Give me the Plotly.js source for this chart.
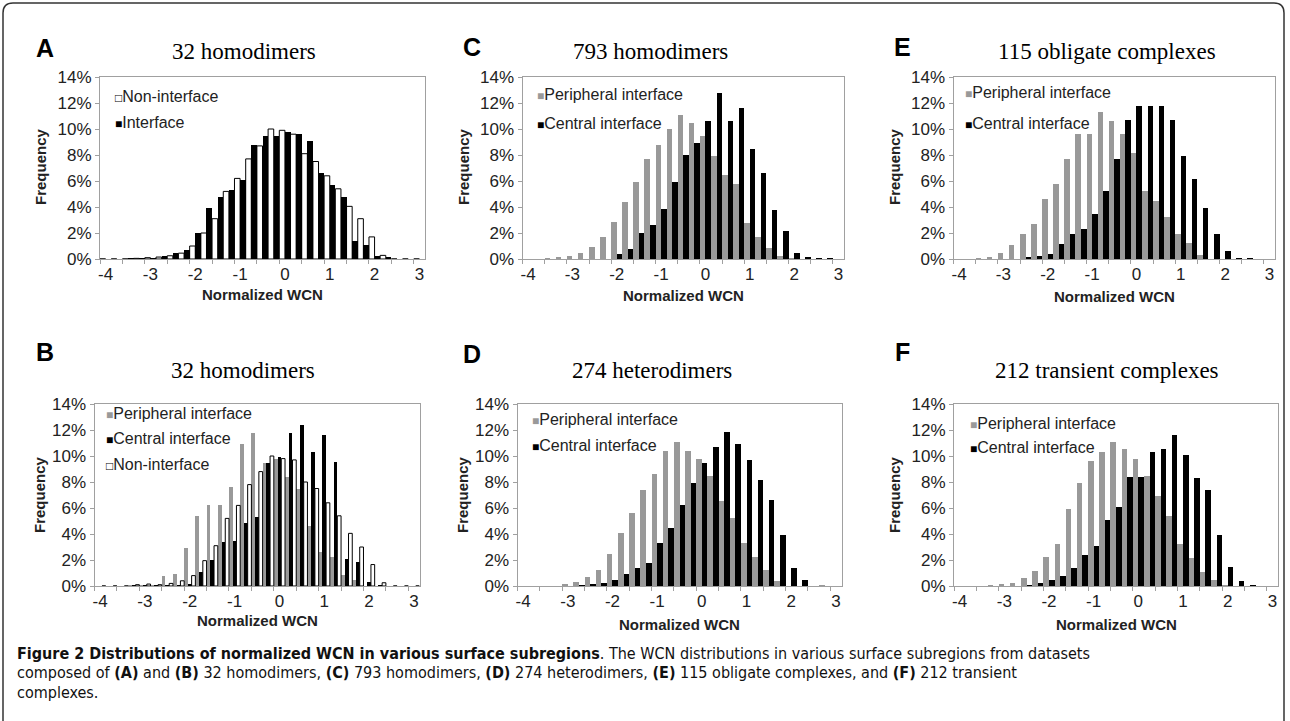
<!DOCTYPE html>
<html>
<head>
<meta charset="utf-8">
<script src="https://cdn.plot.ly/plotly-3.0.1.min.js"></script>
<style>
html,body{margin:0;padding:0;background:#fff;}
#chart{width:1290px;height:721px;}
</style>
</head>
<body>
<div id="chart"></div>
<script>
// ---------- categories (normalized WCN bins, Excel category axis) ----------
const bins = [-4,-3.75,-3.5,-3.25,-3,-2.75,-2.5,-2.25,-2,-1.75,-1.5,-1.25,-1,-0.75,-0.5,-0.25,0,0.25,0.5,0.75,1,1.25,1.5,1.75,2,2.25,2.5,2.75,3];
const xTickVals = [-4,-3,-2,-1,0,1,2,3];
const xTickText = ['-4','-3','-2','-1','0','1','2','3'];
const yTickVals = [0,2,4,6,8,10,12,14];
const yTickText = ['0%','2%','4%','6%','8%','10%','12%','14%'];

// ---------- series values (frequency, %) ----------
// (A) 32 homodimers
const A_nonInterface = [0,0,0,0.05,0.1,0.15,0.25,0.45,1.0,2.0,3.1,5.2,6.2,7.7,8.7,10.0,9.9,9.6,8.1,7.5,6.4,5.4,4.05,3.1,1.7,0.28,0,0,0];
const A_interface    = [0,0,0.05,0.1,0.1,0.2,0.5,0.7,2.0,3.9,4.8,5.3,6.1,8.8,9.5,9.5,9.8,9.6,9.1,6.6,5.7,4.75,1.4,1.05,0.23,0.15,0,0,0];
// (B) 32 homodimers
const B_peripheral   = [0,0,0,0.1,0.1,0.1,0.8,0.95,2.95,5.35,6.25,6.25,7.6,10.9,11.8,9.5,9.8,8.4,7.5,4.65,2.6,2.2,0.85,0.5,0,0,0,0,0];
const B_central      = [0,0,0,0.05,0.05,0.1,0.05,0.1,0.15,1.1,2.0,3.35,3.5,4.85,5.3,9.45,9.9,11.75,12.4,10.3,11.6,9.55,2.1,1.85,0.3,0.1,0,0,0];
const B_nonInterface = [0,0,0,0.1,0.15,0.1,0.2,0.4,0.8,1.95,3.1,5.2,6.2,7.8,8.8,10.0,9.8,9.7,8.0,7.5,6.4,5.4,4.05,3.0,1.65,0.25,0,0,0];
// (C) 793 homodimers
const C_peripheral   = [0.03,0.03,0.05,0.15,0.25,0.45,0.9,1.7,2.85,4.4,5.9,7.7,8.8,10.0,11.1,10.5,9.45,7.9,6.5,5.8,2.8,1.7,0.85,0.25,0.05,0,0,0,0];
const C_central      = [0,0,0,0,0,0,0,0.02,0.35,0.8,2.0,2.6,3.85,5.9,8.0,8.9,10.6,12.8,10.6,11.6,8.45,6.6,3.75,2.15,0.5,0.12,0.05,0.05,0.03];
// (D) 274 heterodimers
const D_peripheral   = [0,0,0.02,0.03,0.15,0.3,0.7,1.25,2.5,4.1,5.65,7.4,8.6,10.4,11.1,10.35,9.8,8.45,6.55,5.25,3.3,2.25,1.2,0.4,0,0,0,0.05,0];
const D_central      = [0,0,0,0,0,0.1,0.15,0.2,0.5,0.9,1.35,1.8,3.3,4.5,6.25,7.9,9.5,10.7,11.85,10.95,9.7,8.15,6.6,3.9,1.35,0.45,0.02,0,0];
// (E) 115 obligate complexes
const E_peripheral   = [0,0.02,0.05,0.15,0.5,1.05,1.9,2.7,4.65,5.8,7.7,9.6,9.6,11.3,10.6,9.6,8.15,5.25,4.45,3.2,1.95,1.2,0.3,0,0,0,0,0,0];
const E_central      = [0,0,0,0,0,0,0.15,0.25,0.35,1.15,1.95,2.3,3.5,5.25,7.7,10.7,11.75,11.75,11.75,10.7,7.9,6.15,3.9,1.9,0.6,0.05,0.05,0.03,0.03];
// (F) 212 transient complexes
const F_peripheral   = [0,0,0.02,0.05,0.15,0.25,0.6,1.15,2.2,3.2,5.95,7.9,9.6,10.3,11.05,10.55,9.8,8.45,6.9,5.35,3.2,2.15,1.1,0.45,0.05,0,0,0.02,0];
const F_central      = [0,0,0,0,0,0,0.1,0.25,0.5,0.8,1.4,2.35,3.05,5.1,6.1,8.35,8.35,10.3,10.55,11.6,10.1,8.3,7.4,3.9,1.45,0.35,0.05,0,0];

// ---------- texts ----------
const panelTitles = ['32 homodimers','793 homodimers','115 obligate complexes','32 homodimers','274 heterodimers','212 transient complexes'];
const panelLetters = ['A','C','E','B','D','F'];
const seriesNames = {per:'Peripheral interface', cen:'Central interface', non:'Non-interface', int:'Interface'};
const xTitle = 'Normalized WCN';
const yTitle = 'Frequency';
const captionLines = [
  '<b>Figure 2 Distributions of normalized WCN in various surface subregions</b>. The WCN distributions in various surface subregions from datasets',
  'composed of <b>(A)</b> and <b>(B)</b> 32 homodimers, <b>(C)</b> 793 homodimers, <b>(D)</b> 274 heterodimers, <b>(E)</b> 115 obligate complexes, and <b>(F)</b> 212 transient',
  'complexes.'
];

// ---------- styles / layout geometry (pixels) ----------
const W = 1290, H = 721;
const GRAY = '#999999', BLACK = '#000000', WHITE = '#ffffff';
const SANS = 'Liberation Sans, Arial, sans-serif';
const SERIF = 'Liberation Serif, Times New Roman, serif';
const CAPFONT = 'Liberation Sans Narrow, DejaVu Sans Condensed, Liberation Sans, sans-serif';
const TICKSIZE = 17;
const px = x => x / W;
const py = y => 1 - y / H;

const series = {
  non:{color:WHITE, line:BLACK, lw:1, legendGlyph:'□', glyphColor:BLACK},
  int:{color:BLACK, line:BLACK, lw:0, legendGlyph:'■', glyphColor:BLACK},
  per:{color:GRAY,  line:GRAY,  lw:0, legendGlyph:'■', glyphColor:GRAY},
  cen:{color:BLACK, line:BLACK, lw:0, legendGlyph:'■', glyphColor:BLACK}
};

const panels = [
  {box:[100,425,77,259],   title:[244,52],  letter:[45,48],  ytitle:[40,167],  xtitle:[262,294], legend:[113,[97,122]],
   data:[['non',A_nonInterface],['int',A_interface]]},
  {box:[522.5,844,77,259], title:[650,52],  letter:[472,47], ytitle:[463,167], xtitle:[683,295], legend:[535,[95,123]],
   data:[['per',C_peripheral],['cen',C_central]]},
  {box:[953.5,1275,77,259],title:[1107,52], letter:[903,47], ytitle:[894,167], xtitle:[1114,296], legend:[963,[93,123]],
   data:[['per',E_peripheral],['cen',E_central]]},
  {box:[94.5,419.5,404,586],title:[243,370],letter:[45,352], ytitle:[39,495],  xtitle:[257,620], legend:[104,[413,439,464]],
   data:[['per',B_peripheral],['cen',B_central],['non',B_nonInterface]]},
  {box:[517.5,841.5,404,586],title:[652,370],letter:[472,354],ytitle:[462,495],xtitle:[679,624], legend:[530,[419,446]],
   data:[['per',D_peripheral],['cen',D_central]]},
  {box:[954,1278,404,586], title:[1107,370], letter:[902,352],ytitle:[894,495], xtitle:[1116,624], legend:[968,[423,448]],
   data:[['per',F_peripheral],['cen',F_central]]}
];

const traces = [];
const layout = {
  width: W, height: H,
  margin:{l:0,r:0,t:0,b:0,pad:0},
  paper_bgcolor:'#ffffff', plot_bgcolor:'#ffffff',
  barmode:'group', bargap:0, bargroupgap:0,
  showlegend:false,
  font:{family:SANS, color:'#222'},
  annotations:[], shapes:[]
};

panels.forEach((p, i) => {
  const n = i + 1;
  const xa = 'x' + (n === 1 ? '' : n), ya = 'y' + (n === 1 ? '' : n);
  const xKey = 'xaxis' + (n === 1 ? '' : n), yKey = 'yaxis' + (n === 1 ? '' : n);
  p.data.forEach(([key, vals]) => {
    const s = series[key];
    traces.push({
      type:'bar', x:bins, y:vals, name:seriesNames[key], xaxis:xa, yaxis:ya,
      marker:{color:s.color, line:{color:s.line, width:s.lw}},
      hovertemplate:'%{x}: %{y}%<extra>' + seriesNames[key] + '</extra>'
    });
  });
  const [x0,x1,y0,y1] = p.box;
  layout[xKey] = {
    domain:[px(x0), px(x1)], anchor:ya, range:[-4.125, 3.125],
    tickmode:'array', tickvals:xTickVals, ticktext:xTickText, ticks:'',
    ticklabelstandoff:0,
    showline:true, linecolor:'#a0a0a0', linewidth:1, mirror:true,
    showgrid:false, zeroline:false, fixedrange:true,
    tickfont:{family:SANS, size:TICKSIZE, color:'#222'},
    minor:{tickmode:'linear', tick0:-4.125, dtick:0.5, ticks:'outside', ticklen:4, tickwidth:1, tickcolor:'#a0a0a0', showgrid:false}
  };
  layout[yKey] = {
    domain:[py(y1), py(y0)], anchor:xa, range:[0,14],
    tickmode:'array', tickvals:yTickVals, ticktext:yTickText, ticks:'outside', ticklen:4, tickwidth:1, tickcolor:'#a0a0a0',
    showline:true, linecolor:'#a0a0a0', linewidth:1, mirror:true,
    showgrid:false, zeroline:false, fixedrange:true,
    tickfont:{family:SANS, size:TICKSIZE, color:'#222'}
  };
  // panel letter
  layout.annotations.push({xref:'paper', yref:'paper', x:px(p.letter[0]), y:py(p.letter[1]), xanchor:'center', yanchor:'middle',
    text:'<b>' + panelLetters[i] + '</b>', showarrow:false, font:{family:SANS, size:25, color:'#000'}});
  // panel title
  layout.annotations.push({xref:'paper', yref:'paper', x:px(p.title[0]), y:py(p.title[1]), xanchor:'center', yanchor:'middle',
    text:panelTitles[i], showarrow:false, font:{family:SERIF, size:23, color:'#000'}});
  // axis titles
  layout.annotations.push({xref:'paper', yref:'paper', x:px(p.xtitle[0]), y:py(p.xtitle[1]), xanchor:'center', yanchor:'middle',
    text:'<b>' + xTitle + '</b>', showarrow:false, font:{family:SANS, size:15, color:'#222'}});
  layout.annotations.push({xref:'paper', yref:'paper', x:px(p.ytitle[0]), y:py(p.ytitle[1]), xanchor:'center', yanchor:'middle',
    text:'<b>' + yTitle + '</b>', textangle:-90, showarrow:false, font:{family:SANS, size:15, color:'#222'}});
  // legend entries
  p.data.forEach(([key], j) => {
    const s = series[key];
    layout.annotations.push({xref:'paper', yref:'paper', x:px(p.legend[0]), y:py(p.legend[1][j]), xanchor:'left', yanchor:'middle',
      text:'<span style="color:' + s.glyphColor + ';font-size:12px">' + s.legendGlyph + '</span>' + seriesNames[key],
      showarrow:false, font:{family:SANS, size:16, color:'#222'}});
  });
});

// caption
const capY = [653, 672, 692];
captionLines.forEach((t, i) => {
  layout.annotations.push({xref:'paper', yref:'paper', x:px(15), y:py(capY[i]), xanchor:'left', yanchor:'middle',
    text:t, showarrow:false, align:'left', font:{family:CAPFONT, size:16, color:'#111'}});
});

// figure frame with rounded top corners
const L = 3, T = 3, R = 1284, B = 740, r = 10;
layout.shapes.push({type:'path', xref:'paper', yref:'paper', layer:'above',
  path:'M' + px(L) + ',' + py(B) + ' L' + px(L) + ',' + py(T + r) + ' Q' + px(L) + ',' + py(T) + ' ' + px(L + r) + ',' + py(T) +
       ' L' + px(R - r) + ',' + py(T) + ' Q' + px(R) + ',' + py(T) + ' ' + px(R) + ',' + py(T + r) + ' L' + px(R) + ',' + py(B),
  line:{color:'#333', width:1.5}});

Plotly.newPlot('chart', traces, layout, {staticPlot:true, displayModeBar:false});
</script>
</body>
</html>
